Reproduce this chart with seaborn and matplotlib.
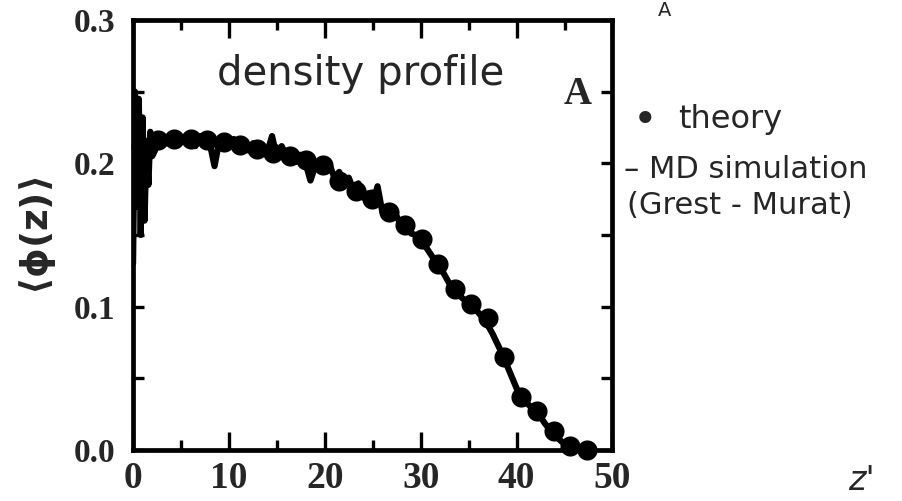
import matplotlib
matplotlib.use("Agg")
import matplotlib.pyplot as plt
from matplotlib.ticker import MultipleLocator
import pandas as pd
import seaborn as sns

# MD simulation (Grest-Murat): noisy density profile
md_z = [0.0, 0.2, 0.4, 0.6, 0.8, 1.0, 1.2, 1.4, 1.6, 1.8, 2.0,
        2.5, 3.0, 3.5, 4.0, 4.5, 5.0, 5.5, 6.0, 6.5, 7.0, 7.5, 8.0, 8.5, 9.0,
        9.5, 10.0, 10.5, 11.0, 11.5, 12.0, 12.5, 13.0, 13.5, 14.0, 14.5, 15.0,
        15.5, 16.0, 16.5, 17.0, 17.5, 18.0, 18.5, 19.0, 19.5, 20.0, 20.5, 21.0,
        21.5, 22.0, 22.5, 23.0, 23.5, 24.0, 24.5, 25.0, 25.5, 26.0, 26.5, 27.0,
        27.5, 28.0, 28.5, 29.0, 29.5, 30.0, 30.5, 31.0, 31.5, 32.0, 32.5, 33.0,
        33.5, 34.0, 34.5, 35.0, 35.5, 36.0, 36.5, 37.0, 37.5, 38.0, 38.5, 39.0,
        39.5, 40.0, 40.5, 41.0, 41.5, 42.0, 42.5, 43.0, 43.5, 44.0, 44.5, 45.0,
        45.5, 46.0, 46.5, 47.0, 47.5, 48.0]
md_phi = [0.130, 0.250, 0.170, 0.245, 0.150, 0.232, 0.160, 0.215, 0.185, 0.222, 0.205,
          0.212, 0.219, 0.214, 0.220, 0.213, 0.218, 0.215, 0.221, 0.212, 0.219, 0.216, 0.214, 0.198, 0.216,
          0.219, 0.213, 0.217, 0.211, 0.216, 0.209, 0.214, 0.207, 0.213, 0.208, 0.219, 0.204,
          0.212, 0.205, 0.208, 0.201, 0.206, 0.200, 0.188, 0.198, 0.202, 0.196, 0.199, 0.190,
          0.194, 0.186, 0.190, 0.181, 0.186, 0.176, 0.179, 0.172, 0.184, 0.166, 0.169, 0.162,
          0.163, 0.156, 0.157, 0.151, 0.150, 0.146, 0.142, 0.137, 0.132, 0.128, 0.122, 0.116,
          0.112, 0.108, 0.105, 0.102, 0.099, 0.096, 0.092, 0.087, 0.081, 0.074, 0.067, 0.059,
          0.051, 0.043, 0.037, 0.033, 0.030, 0.027, 0.023, 0.018, 0.014, 0.010, 0.007, 0.004,
          0.003, 0.002, 0.001, 0.001, 0.000, 0.000]

# theory points
th_z = [0.86, 2.58, 4.30, 6.02, 7.74, 9.46, 11.18, 12.90, 14.62, 16.34, 18.06,
        19.78, 21.50, 23.22, 24.94, 26.66, 28.38, 30.10, 31.82, 33.54, 35.26,
        36.98, 38.70, 40.42, 42.14, 43.86, 45.58, 47.30]
th_phi = [0.212, 0.216, 0.217, 0.217, 0.216, 0.215, 0.213, 0.210, 0.207, 0.205, 0.202,
          0.199, 0.188, 0.181, 0.175, 0.166, 0.157, 0.147, 0.130, 0.112, 0.102,
          0.092, 0.065, 0.037, 0.027, 0.013, 0.003, 0.000]

x_ticks = [0, 10, 20, 30, 40, 50]
y_ticks = [0.0, 0.1, 0.2, 0.3]
y_ticklabels = ["0.0", "0.1", "0.2", "0.3"]

sns.set_theme(style="ticks")
plt.rcParams["font.family"] = ["DejaVu Sans"]

md = pd.DataFrame({"z": md_z, "phi": md_phi})
th = pd.DataFrame({"z": th_z, "phi": th_phi})

fig = plt.figure(figsize=(9.02, 5.01), dpi=100)
ax = fig.add_axes([0.1475, 0.102, 0.5315, 0.858])

sns.lineplot(data=md, x="z", y="phi", ax=ax, color="black", linewidth=4.5,
             estimator=None, sort=False, zorder=3)
sns.scatterplot(data=th, x="z", y="phi", ax=ax, color="black", s=210,
                edgecolor="black", linewidth=0, zorder=4, clip_on=False)

ax.set_xlim(0, 50)
ax.set_ylim(0, 0.3)
ax.set_xticks(x_ticks)
ax.set_yticks(y_ticks)
ax.set_yticklabels(y_ticklabels)
ax.xaxis.set_minor_locator(MultipleLocator(5))
ax.yaxis.set_minor_locator(MultipleLocator(0.05))
ax.set_xlabel("")
ax.set_ylabel("")

for sp in ax.spines.values():
    sp.set_visible(True)
    sp.set_linewidth(3.4)
    sp.set_color("black")

ax.tick_params(which="both", direction="in", top=True, right=True,
               color="black", width=2.4)
ax.tick_params(which="major", length=13)
ax.tick_params(which="minor", length=7)
ax.tick_params(axis="y", which="both", length=8)
ax.tick_params(axis="x", which="major", labelsize=27, pad=8)
ax.tick_params(axis="y", which="major", labelsize=24, pad=13)
for lab in ax.get_xticklabels() + ax.get_yticklabels():
    lab.set_family("Liberation Serif")
    lab.set_fontweight("bold")

# annotations
ax.text(23.7, 0.262, "density profile", fontsize=29, ha="center", va="center")
ax.text(46.4, 0.248, "A", fontsize=28, fontweight="bold",
        family="Liberation Serif", ha="center", va="center")

fig.text(0.042, 0.53, r"$\mathbf{\langle\phi(z)\rangle}$", rotation=90,
         fontsize=27, ha="center", va="center")

# handwritten legend on the right
fig.text(0.715, 0.758, "\u2022", fontsize=30, ha="center", va="center")
fig.text(0.752, 0.762, "theory", fontsize=23, ha="left", va="center")
fig.text(0.692, 0.662, "\u2013 MD simulation", fontsize=22, ha="left", va="center")
fig.text(0.695, 0.590, "(Grest - Murat)", fontsize=22, ha="left", va="center")

fig.text(0.955, 0.04, "z'", fontsize=24, style="italic", ha="center", va="center")
fig.text(0.737, 0.998, "A", fontsize=14, ha="center", va="top")

fig.savefig("out.png", dpi=100, facecolor="white")
